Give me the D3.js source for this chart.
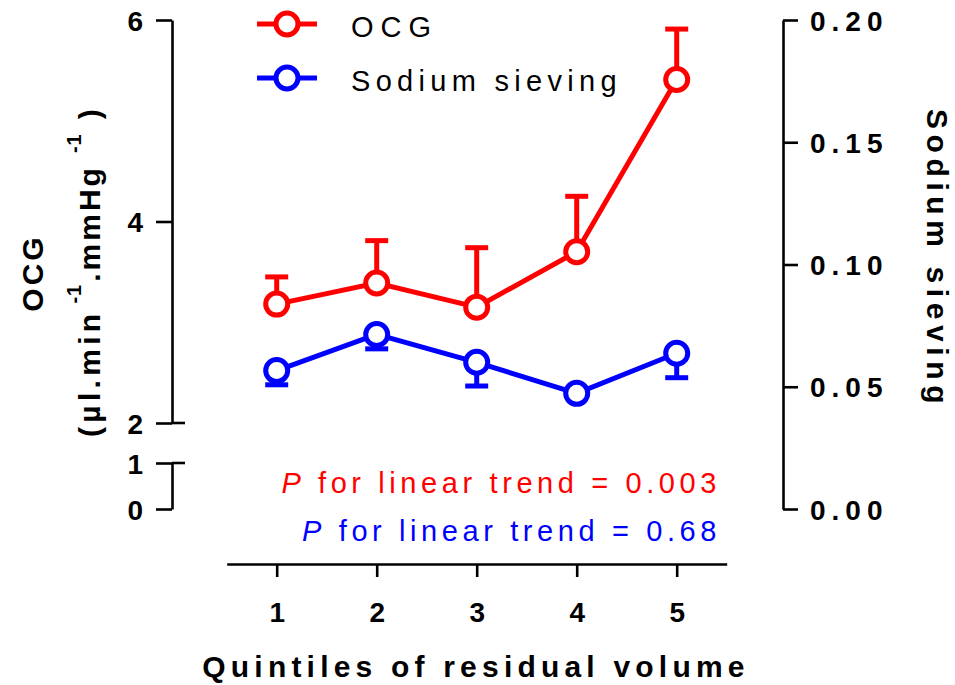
<!DOCTYPE html>
<html>
<head>
<meta charset="utf-8">
<script src="https://cdn.jsdelivr.net/npm/d3@7"></script>
<style>
  body { margin: 0; background: #fff; }
  svg { display: block; font-family: "Liberation Sans", Arial, Helvetica, sans-serif; }
</style>
</head>
<body>
<svg id="chart" width="955" height="685"></svg>
<script>
// Quintiles of residual volume
const quintiles = [1, 2, 3, 4, 5];

// OCG (µl.min-1.mmHg-1): mean and upper end of error bar
const ocgMean  = [3.18, 3.39, 3.15, 3.70, 5.41];
const ocgUpper = [3.45, 3.81, 3.74, 4.25, 5.91];

// Sodium sieving: mean and lower end of error bar
const sievingMean  = [0.0566, 0.0714, 0.0600, 0.0473, 0.0637];
const sievingLower = [0.0508, 0.0655, 0.0503, 0.0460, 0.0537];

// Axis ticks
const leftTicksUpper = [2, 4, 6];
const leftTicksLower = [0, 1];
const rightTicks = [0, 0.05, 0.10, 0.15, 0.20];

const seriesNames = ["OCG", "Sodium sieving"];
const pTexts = ["0.003", "0.68"];

const RED = "#ff0000", BLUE = "#0000ff";
const svg = d3.select("#chart");

// Scales
const x = d3.scaleLinear().domain([0.5, 5.5]).range([226.7, 726.7]);
const yUpper = d3.scaleLinear().domain([2, 6]).range([423, 20]);   // broken left axis, upper part
const yLower = d3.scaleLinear().domain([0, 1]).range([509, 463]);  // broken left axis, lower part
const yRight = d3.scaleLinear().domain([0, 0.2]).range([509, 20]);

const axisX = 172, rightX = 783, baseY = 564;

function styleAxis(g, fs, ls) {
  g.selectAll("path, line").attr("stroke", "#000").attr("stroke-width", 2.6);
  g.selectAll("text")
    .attr("fill", "#000")
    .attr("font-size", fs)
    .attr("font-weight", "bold")
    .style("letter-spacing", ls + "px")
    .attr("font-family", "Liberation Sans, Arial, sans-serif");
}

// Left axis (upper segment)
const gLU = svg.append("g").attr("transform", `translate(${axisX},0)`)
  .call(d3.axisLeft(yUpper).tickValues(leftTicksUpper).tickSize(16).tickSizeOuter(0).tickPadding(13).tickFormat(d3.format("d")));
styleAxis(gLU, 28, 0);
gLU.selectAll(".tick text").attr("dy", "0.36em");

// Left axis (lower segment)
const gLL = svg.append("g").attr("transform", `translate(${axisX},0)`)
  .call(d3.axisLeft(yLower).tickValues(leftTicksLower).tickSize(16).tickSizeOuter(0).tickPadding(13).tickFormat(d3.format("d")));
styleAxis(gLL, 28, 0);
gLL.selectAll(".tick text").attr("dy", "0.36em");

// Break marks at the ends of the axis gap
[yUpper(2), yLower(1)].forEach(yy => {
  svg.append("line").attr("x1", axisX).attr("x2", axisX + 13)
    .attr("y1", yy).attr("y2", yy).attr("stroke", "#000").attr("stroke-width", 2.6);
});

// Right axis
const gR = svg.append("g").attr("transform", `translate(${rightX},0)`)
  .call(d3.axisRight(yRight).tickValues(rightTicks).tickSize(15).tickSizeOuter(0).tickPadding(12).tickFormat(d3.format(".2f")));
styleAxis(gR, 28, 6);
gR.selectAll(".tick text").attr("dy", "0.36em");

// Bottom axis
const gX = svg.append("g").attr("transform", `translate(0,${baseY})`)
  .call(d3.axisBottom(x).tickValues(quintiles).tickSize(13).tickSizeOuter(0).tickPadding(25).tickFormat(d3.format("d")));
styleAxis(gX, 28, 0);

// Axis titles
svg.append("text")
  .attr("x", 476).attr("y", 677)
  .attr("text-anchor", "middle").attr("font-size", 30).attr("font-weight", "bold")
  .style("letter-spacing", "5.2px")
  .text("Quintiles of residual volume");

svg.append("text")
  .attr("transform", "translate(43,273) rotate(-90)")
  .attr("text-anchor", "middle").attr("font-size", 30).attr("font-weight", "bold")
  .style("letter-spacing", "3px")
  .text("OCG");

// Unit line, with raised "-1" exponents
const unitT = svg.append("text")
  .attr("transform", "translate(100,271) rotate(-90)")
  .attr("text-anchor", "middle").attr("font-size", 30).attr("font-weight", "bold")
  .style("letter-spacing", "4.3px");
unitT.append("tspan").text("(µl.min");
unitT.append("tspan").attr("dx", 6).attr("dy", -19).attr("font-size", 20).style("letter-spacing", "1px").text("-1");
unitT.append("tspan").attr("dx", 2).attr("dy", 19).style("letter-spacing", "3px").text(".mmHg");
unitT.append("tspan").attr("dx", 12).attr("dy", -19).attr("font-size", 20).style("letter-spacing", "1px").text("-1");
unitT.append("tspan").attr("dx", 14).attr("dy", 19).text(")");

svg.append("text")
  .attr("transform", "translate(927,259) rotate(90)")
  .attr("text-anchor", "middle").attr("font-size", 30).attr("font-weight", "bold")
  .style("letter-spacing", "5.6px")
  .text("Sodium sieving");

// Series data
const ocgData = quintiles.map((q, i) => ({ q, m: ocgMean[i], e: ocgUpper[i] }));
const sievData = quintiles.map((q, i) => ({ q, m: sievingMean[i], e: sievingLower[i] }));

const capW = 23, lw = 5, r = 11;

function drawSeries(data, yScale, color) {
  const g = svg.append("g");
  // error bars
  g.selectAll(".eb").data(data).join("line")
    .attr("x1", d => x(d.q)).attr("x2", d => x(d.q))
    .attr("y1", d => yScale(d.m)).attr("y2", d => yScale(d.e))
    .attr("stroke", color).attr("stroke-width", lw);
  g.selectAll(".cap").data(data).join("line")
    .attr("x1", d => x(d.q) - capW / 2).attr("x2", d => x(d.q) + capW / 2)
    .attr("y1", d => yScale(d.e)).attr("y2", d => yScale(d.e))
    .attr("stroke", color).attr("stroke-width", lw);
  // connecting line
  g.append("path").datum(data)
    .attr("d", d3.line().x(d => x(d.q)).y(d => yScale(d.m)))
    .attr("fill", "none").attr("stroke", color).attr("stroke-width", lw);
  // markers
  g.selectAll("circle").data(data).join("circle")
    .attr("cx", d => x(d.q)).attr("cy", d => yScale(d.m)).attr("r", r)
    .attr("fill", "#fff").attr("stroke", color).attr("stroke-width", lw);
}
drawSeries(ocgData, yUpper, RED);
drawSeries(sievData, yRight, BLUE);

// Legend
const legend = svg.append("g");
[RED, BLUE].forEach((c, i) => {
  const ly = 24 + i * 54;
  legend.append("line").attr("x1", 257).attr("x2", 317).attr("y1", ly).attr("y2", ly)
    .attr("stroke", c).attr("stroke-width", lw);
  legend.append("circle").attr("cx", 287).attr("cy", ly).attr("r", r)
    .attr("fill", "#fff").attr("stroke", c).attr("stroke-width", lw);
  legend.append("text").attr("x", 351).attr("y", ly + 13)
    .attr("font-size", 29).style("letter-spacing", i === 0 ? "7px" : "5.3px")
    .text(seriesNames[i]);
});

// Trend test annotations
[RED, BLUE].forEach((c, i) => {
  const t = svg.append("text")
    .attr("x", 721).attr("y", 493 + i * 48)
    .attr("text-anchor", "end").attr("font-size", 29).attr("fill", c)
    .style("letter-spacing", "4.6px");
  t.append("tspan").attr("font-style", "italic").text("P");
  t.append("tspan").text(" for linear trend = " + pTexts[i]);
});
</script>
</body>
</html>
